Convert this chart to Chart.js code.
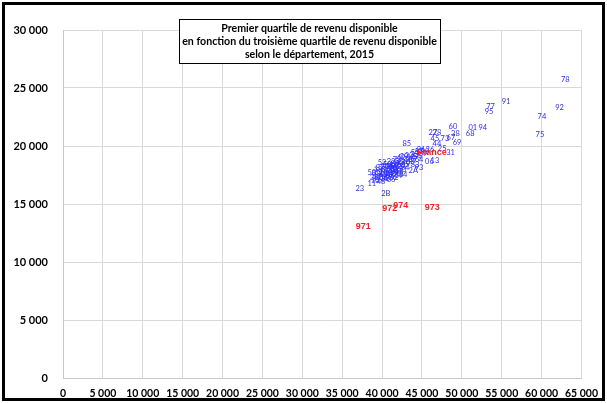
<!DOCTYPE html>
<html>
<head>
<meta charset="utf-8">
<script src="https://cdn.jsdelivr.net/npm/chart.js@4/dist/chart.umd.min.js"></script>
<style>
  html, body { margin: 0; padding: 0; background: #fff; }
  #wrap { width: 607px; height: 403px; position: relative; }
</style>
</head>
<body>
<div id="wrap"><canvas id="c" width="607" height="403"></canvas></div>
<script>
// Department codes, third quartile (x) and first quartile (y) of disposable income, 2015
const codes = [
  '78','92','91','77','95','74','75','01','94','68',
  '60','38','67','69','73','45','27','28','44','26',
  '25','31','06','13','85','2A','34','2B','23','11',
  '58','35','33','57','21','14','54','37','64','76',
  '39','90','29','49','72','17','56','86','51','63',
  '40','83','84','30','93','22','50','53','79','61',
  '41','71','12','43','46','24','19','81','82','47',
  '42','65','32','16','18','87','03','36','09','15',
  '48','52','55','70','89','10','88','80','02','59',
  '62','66','04','05','07','08',
  '971','972','974','973','France'
];
const q3 = [
  62960,62250,55540,53590,53410,60040,59790,51380,52630,51040,
  48880,49190,48630,49400,47880,46630,46380,46880,46880,46000,
  47540,48590,45940,46630,43090,43910,42630,40460,37210,38710,
  38710,44000,43380,44630,44880,43630,44380,43880,44630,43250,
  45130,45380,42750,42380,41880,42380,42130,41630,44130,43500,
  43000,44130,42880,42500,44630,41130,40630,40000,40880,40380,
  41380,41130,39630,40130,40500,40880,39380,41630,41380,40750,
  41880,42130,40380,40130,39500,39750,39250,39000,39630,39130,
  39880,40630,41380,41130,41630,41880,41000,40380,40130,42130,
  41500,41130,42380,42880,41630,41500,
  37630,40960,42340,46290,46250
];
const q1 = [
  25710,23330,23820,23390,22960,22530,20970,21580,21580,21060,
  21670,21100,20730,20300,20660,20660,21120,21200,20170,19710,
  19770,19460,18660,18750,20230,17870,17550,15920,16350,16720,
  17730,19220,19140,19480,19650,18960,19050,18790,18790,18790,
  19310,19480,19050,18960,18790,18530,18700,18450,19390,18620,
  18530,18360,18100,17930,18100,18620,18360,18530,18100,17930,
  18360,17930,17670,17500,17410,17590,17330,17760,17500,17240,
  18190,17760,17150,17760,17930,18100,17590,17240,17070,16980,
  16900,17840,18100,17760,18020,17590,17410,18190,17240,17410,
  17240,17070,18270,18360,18270,17930,
  13040,14570,14910,14710,19400
];
// Overseas departments and the national value are written in red
const redCodes = ['971','972','973','974','France'];
const titleLines = [
  'Premier quartile de revenu disponible',
  'en fonction du troisième quartile de revenu disponible',
  'selon le département, 2015'
];
const xRange = [0, 65000, 5000];
const yRange = [0, 30000, 5000];

function fmt(v) { return String(v).replace(/\B(?=(\d{3})+(?!\d))/g, ' '); }

const points = codes.map((c, i) => ({ x: q3[i], y: q1[i] }));

// Draws each department code centred on its data position
const codeLabels = {
  id: 'codeLabels',
  afterDatasetsDraw(chart) {
    const ctx = chart.ctx;
    const meta = chart.getDatasetMeta(0);
    ctx.save();
    ctx.textAlign = 'center';
    ctx.textBaseline = 'middle';
    const order = [];
    codes.forEach((c, i) => { if (!redCodes.includes(c)) order.push(i); });
    codes.forEach((c, i) => { if (redCodes.includes(c)) order.push(i); });
    order.forEach(i => {
      const el = meta.data[i];
      const c = codes[i];
      if (c === 'France') {
        ctx.font = 'bold 9px "Liberation Sans"';
        ctx.fillStyle = '#ff1a1a';
      } else if (redCodes.includes(c)) {
        ctx.font = 'bold 9px "Liberation Sans"';
        ctx.fillStyle = '#ff1a1a';
      } else {
        ctx.font = '7.5px Lato';
        ctx.fillStyle = '#2b2bff';
      }
      ctx.fillText(c, el.x, el.y);
    });
    ctx.restore();
  }
};

// Framed title box inside the plot, plus the outer chart frame
const decorations = {
  id: 'decorations',
  beforeDraw(chart) {
    const ctx = chart.ctx;
    ctx.save();
    ctx.fillStyle = '#ffffff';
    ctx.fillRect(0, 0, chart.width, chart.height);
    ctx.restore();
  },
  afterDraw(chart) {
    const ctx = chart.ctx;
    ctx.save();
    const bx = 179, by = 19, bw = 261, bh = 44;
    ctx.fillStyle = '#ffffff';
    ctx.fillRect(bx, by, bw, bh);
    ctx.strokeStyle = '#000000';
    ctx.lineWidth = 1;
    ctx.strokeRect(bx + 0.5, by + 0.5, bw, bh);
    let size = 11;
    ctx.font = 'bold ' + size + 'px Lato';
    const w = ctx.measureText(titleLines[1]).width;
    if (w > bw - 6) size = size * (bw - 6) / w;
    ctx.font = 'bold ' + size.toFixed(2) + 'px Lato';
    ctx.fillStyle = '#000000';
    ctx.textAlign = 'center';
    ctx.textBaseline = 'middle';
    const cx = bx + bw / 2;
    titleLines.forEach((t, k) => ctx.fillText(t, cx, by + 9.5 + k * 13));
    // outer frame
    ctx.strokeStyle = '#000000';
    ctx.lineWidth = 3;
    ctx.strokeRect(3.5, 3.5, 600, 396);
    ctx.restore();
  }
};

new Chart(document.getElementById('c'), {
  type: 'scatter',
  data: {
    datasets: [{
      data: points,
      pointRadius: 0,
      pointHoverRadius: 0,
      showLine: false
    }]
  },
  options: {
    responsive: false,
    animation: false,
    devicePixelRatio: 1,
    layout: { padding: { left: 0, top: 30, right: 24, bottom: 0 } },
    plugins: { legend: { display: false }, tooltip: { enabled: false }, title: { display: false } },
    scales: {
      x: {
        type: 'linear',
        min: xRange[0], max: xRange[1],
        afterFit(s) { s.height = 25; },
        afterBuildTicks(s) {
          const t = [];
          for (let v = xRange[0]; v <= xRange[1]; v += xRange[2]) t.push({ value: v });
          s.ticks = t;
        },
        ticks: {
          autoSkip: false, maxRotation: 0, padding: 9,
          color: '#000', font: { family: 'Lato', size: 10.5, weight: 'bold' },
          callback: v => fmt(v)
        },
        grid: { color: '#d9d9d9', drawTicks: false },
        border: { color: '#c8c8c8' }
      },
      y: {
        type: 'linear',
        min: yRange[0], max: yRange[1],
        afterFit(s) { s.width = 63; },
        afterBuildTicks(s) {
          const t = [];
          for (let v = yRange[0]; v <= yRange[1]; v += yRange[2]) t.push({ value: v });
          s.ticks = t;
        },
        ticks: {
          autoSkip: false, padding: 15,
          color: '#000', font: { family: 'Lato', size: 11, weight: 'bold' },
          callback: v => fmt(v)
        },
        grid: { color: '#d9d9d9', drawTicks: false },
        border: { color: '#c8c8c8' }
      }
    }
  },
  plugins: [codeLabels, decorations]
});
</script>
</body>
</html>
